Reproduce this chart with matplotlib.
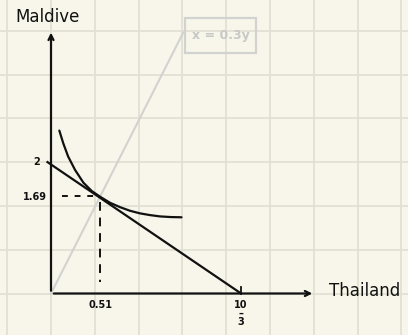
import matplotlib.pyplot as plt
from matplotlib.patches import Rectangle

# sketch is on squared paper: one unit = one grid cell
ic_x = [0.19, 0.28, 0.39, 0.55, 0.74, 0.93, 1.12, 1.35, 1.58, 1.80, 2.03, 2.26, 2.49, 2.74, 2.98]
ic_y = [3.72, 3.43, 3.13, 2.82, 2.53, 2.34, 2.21, 2.07, 1.97, 1.89, 1.83, 1.79, 1.76, 1.745, 1.74]

budget_x = [-0.08, 4.34]
budget_y = [3.00, 0.0]

ray_x = [0.0, 3.02]
ray_y = [0.0, 5.96]

opt_x, opt_y = 1.13, 2.22

tick_labels = {"2": (-0.32, 3.0), "1.69": (-0.37, 2.2), "0.51": (1.14, -0.27)}

bg = "#f8f6ea"
grid_c = "#e2e0d3"
ink = "#111111"
pale = "#d2d2d0"
hand = ["Liberation Sans Narrow", "DejaVu Sans"]

fig = plt.figure(figsize=(4.08, 3.35), dpi=100, facecolor=bg)
ax = fig.add_axes([0, 0, 1, 1])
ax.set_facecolor(bg)
ax.set_xlim(-51 / 43.8, 357 / 43.8)
ax.set_ylim(-41.5 / 43.8, 293.5 / 43.8)
ax.axis("off")

# squared paper
for gx in range(-1, 9):
    ax.axvline(gx, color=grid_c, lw=1.3, zorder=0)
for gy in range(0, 7):
    ax.axhline(gy, color=grid_c, lw=1.3, zorder=0)

# axes with arrows
ax.annotate("", xy=(0, 6.02), xytext=(0, 0),
            arrowprops=dict(arrowstyle="->", lw=1.6, color=ink, mutation_scale=9))
ax.annotate("", xy=(6.03, 0), xytext=(0, 0),
            arrowprops=dict(arrowstyle="->", lw=1.6, color=ink, mutation_scale=9))

# x = 0.3y ray and its label box
ax.plot(ray_x, ray_y, color=pale, lw=1.5, zorder=1)
ax.add_patch(Rectangle((3.06, 5.49), 1.62, 0.80, fill=False, ec=pale, lw=1.6))
ax.text(3.87, 5.88, "x = 0.3y", color="#c8c8c6", fontsize=9, ha="center",
        va="center", family=hand, fontweight="bold")

# budget line and indifference curve
ax.plot(budget_x, budget_y, color=ink, lw=1.6)
ax.plot([4.34, 4.34], [0, 0.14], color=ink, lw=1.3)
ax.plot(ic_x, ic_y, color=ink, lw=1.6, solid_capstyle="round", solid_joinstyle="round")

# dashed guides to the optimum
ax.plot([0.24, opt_x - 0.08], [opt_y, opt_y], color=ink, lw=1.4, ls=(0, (3, 3.5)))
ax.plot([opt_x, opt_x], [opt_y - 0.12, 0.26], color=ink, lw=1.4, ls=(0, (4.5, 3.5)))

# labels
ax.text(-0.07, 6.31, "Maldive", fontsize=12, ha="center", va="center", family=hand, color=ink)
ax.text(7.17, 0.06, "Thailand", fontsize=12, ha="center", va="center", family=hand, color=ink)
for lab, (lx, ly) in tick_labels.items():
    ax.text(lx, ly, lab, fontsize=7, ha="center", va="center", family=hand,
            fontweight="bold", color=ink)
ax.text(4.34, -0.46, "10\n\u2013\n3", fontsize=7, ha="center", va="center", family=hand,
        fontweight="bold", color=ink, linespacing=0.85)

fig.savefig("out.png", dpi=100, facecolor=bg)
